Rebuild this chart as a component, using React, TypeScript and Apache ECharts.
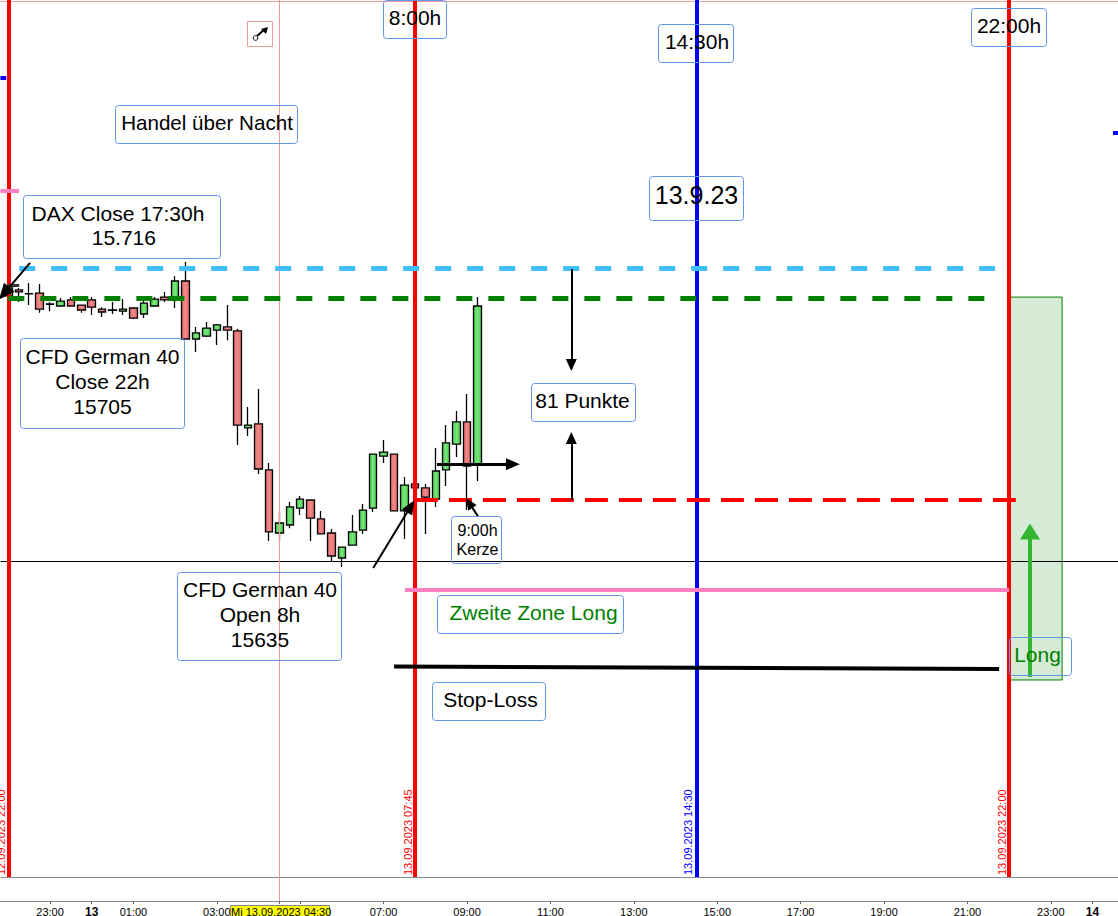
import React, { useEffect, useRef } from "react";
import * as echarts from "echarts";

// 15-minute time axis, one band per candle slot (the first slot lies off the left edge)
const categories = [
  "12.09 21:45",
  "12.09 22:00", "12.09 22:15", "12.09 22:30", "12.09 22:45",
  "12.09 23:00", "12.09 23:15", "12.09 23:30", "12.09 23:45",
  "13.09 00:00", "13.09 00:15", "13.09 00:30", "13.09 00:45",
  "13.09 01:00", "13.09 01:15", "13.09 01:30", "13.09 01:45",
  "13.09 02:00", "13.09 02:15", "13.09 02:30", "13.09 02:45",
  "13.09 03:00", "13.09 03:15", "13.09 03:30", "13.09 03:45",
  "13.09 04:00", "13.09 04:15", "13.09 04:30", "13.09 04:45",
  "13.09 05:00", "13.09 05:15", "13.09 05:30", "13.09 05:45",
  "13.09 06:00", "13.09 06:15", "13.09 06:30", "13.09 06:45",
  "13.09 07:00", "13.09 07:15", "13.09 07:30", "13.09 07:45",
  "13.09 08:00", "13.09 08:15", "13.09 08:30", "13.09 08:45",
  "13.09 09:00", "13.09 09:15", "13.09 09:30", "13.09 09:45",
  "13.09 10:00", "13.09 10:15", "13.09 10:30", "13.09 10:45",
  "13.09 11:00", "13.09 11:15", "13.09 11:30", "13.09 11:45",
  "13.09 12:00", "13.09 12:15", "13.09 12:30", "13.09 12:45",
  "13.09 13:00", "13.09 13:15", "13.09 13:30", "13.09 13:45",
  "13.09 14:00", "13.09 14:15", "13.09 14:30", "13.09 14:45",
  "13.09 15:00", "13.09 15:15", "13.09 15:30", "13.09 15:45",
  "13.09 16:00", "13.09 16:15", "13.09 16:30", "13.09 16:45",
  "13.09 17:00", "13.09 17:15", "13.09 17:30", "13.09 17:45",
  "13.09 18:00", "13.09 18:15", "13.09 18:30", "13.09 18:45",
  "13.09 19:00", "13.09 19:15", "13.09 19:30", "13.09 19:45",
  "13.09 20:00", "13.09 20:15", "13.09 20:30", "13.09 20:45",
  "13.09 21:00", "13.09 21:15", "13.09 21:30", "13.09 21:45",
  "13.09 22:00", "13.09 22:15", "13.09 22:30", "13.09 22:45",
  "13.09 23:00", "13.09 23:15", "13.09 23:30", "13.09 23:45",
  "14.09 00:00", "14.09 00:15", "14.09 00:30",
];

const tickCategories = [
  "12.09 23:00", "13.09 00:00", "13.09 01:00", "13.09 03:00", "13.09 07:00",
  "13.09 09:00", "13.09 11:00", "13.09 13:00", "13.09 15:00", "13.09 17:00", "13.09 19:00",
  "13.09 21:00", "13.09 23:00", "14.09 00:00",
];
const tickLabels = [
  "23:00", "13", "01:00", "03:00", "07:00", "09:00", "11:00", "13:00", "15:00",
  "17:00", "19:00", "21:00", "23:00", "14",
];
const dayTicks = ["13", "14"];
const unlabelledTicks = ["13.09 04:30", "13.09 05:00"];

// Candles from 12.09 22:00 to 13.09 09:15
const opens = [
  15706.1, 15708.2, 15706.9, 15707.1, 15703.3, 15702.6, 15704.7, 15702.9, 15704.7, 15701.5,
  15701.2, 15700.8, 15701.9, 15699.8, 15702.6, 15705.7, 15705.4, 15711.3, 15691.1, 15692.1,
  15694.2, 15695.3, 15693.9, 15660.1, 15661.5, 15645.5, 15623.5, 15626.3, 15632.2, 15635.0,
  15628.4, 15623.5, 15614.8, 15619.3, 15624.5, 15632.2, 15650.3, 15651.0, 15631.2, 15640.6,
  15639.2, 15635.3, 15645.5, 15654.5, 15662.2, 15647.2,
];
const closes = [
  15708.9, 15707.5, 15706.8, 15701.5, 15703.2, 15704.3, 15702.6, 15701.2, 15702.2, 15700.5,
  15701.1, 15701.5, 15698.4, 15703.6, 15705.0, 15704.7, 15711.3, 15691.1, 15693.2, 15694.9,
  15696.0, 15694.2, 15661.1, 15661.1, 15645.8, 15623.9, 15627.0, 15632.6, 15635.3, 15628.7,
  15623.2, 15615.5, 15618.6, 15623.9, 15631.5, 15651.0, 15651.7, 15631.2, 15640.2, 15639.2,
  15636.0, 15645.1, 15654.9, 15662.2, 15646.8, 15702.6,
];
const lows = [
  15705.4, 15704.0, 15702.9, 15700.2, 15700.8, 15702.6, 15702.6, 15700.2, 15699.5, 15698.8,
  15699.8, 15699.5, 15698.1, 15698.4, 15702.6, 15704.0, 15701.9, 15691.1, 15686.6, 15691.8,
  15689.0, 15690.7, 15654.2, 15657.3, 15644.1, 15620.7, 15620.7, 15625.2, 15629.8, 15620.7,
  15623.2, 15613.7, 15611.7, 15619.3, 15623.2, 15630.8, 15647.9, 15631.2, 15621.4, 15638.5,
  15623.2, 15632.6, 15639.9, 15650.0, 15631.5, 15641.6,
];
const highs = [
  15710.3, 15708.9, 15710.6, 15710.3, 15704.0, 15705.4, 15705.7, 15702.9, 15705.7, 15702.2,
  15704.0, 15705.0, 15702.2, 15704.3, 15705.7, 15707.5, 15713.0, 15717.9, 15695.3, 15697.0,
  15696.3, 15702.9, 15694.6, 15667.4, 15673.7, 15647.9, 15630.8, 15634.3, 15636.4, 15635.3,
  15631.2, 15624.9, 15618.6, 15629.8, 15633.6, 15651.0, 15655.9, 15651.0, 15643.0, 15640.6,
  15640.6, 15653.1, 15661.1, 15666.0, 15671.9, 15705.7,
];

// Levels (price) and session markers (hours after 13.09 00:00)
const priceTop = 15809.2;
const priceBottom = 15495.3;
const panelFloor = 15503.65;
const hourMin = -2.375;
const hourMax = 24.625;
const edgeLeft = -2.19;
const edgeRight = 24.61;

const redSessionHours = [-2, 7.75, 22];
const blueSessionHours = [14.5];
const cursorHour = 4.5;
const cursorPrice = 15808.9;
const lastPrice = 15613.7;

const daxClose = 15715.7;
const cfdClose = 15705.4;
const cfdOpen = 15635;
const zoneLong = 15603.6;
const stopHours = [7.25, 21.76];
const stopPrices = [15577.0, 15576.1];
const pinkStub = [-2.19, -1.74, 15742.7];
const blueStubLeft = [-2.19, -2.05, 15782.0];
const blueStubRight = [24.49, 24.61, 15762.9];
const darkBar = [-2.03, -1.74, 15709.9];
const longZoneHours = [22, 23.27];
const longZonePrices = [15705.7, 15572.3];

// Arrows: [fromHour, fromPrice, toHour, toPrice]
const arrowDown81 = [11.5, 15715.5, 11.5, 15682.0];
const arrowUp81 = [11.5, 15635, 11.5, 15656.6];
const arrowRight = [8.28, 15647.5, 10.1, 15647.5];
const arrowOpen = [6.75, 15611.3, 7.65, 15632.8];
const arrowKerze = [9.26, 15629.4, 9.05, 15634.0];
const arrowDax = [-1.48, 15717.6, -2.1, 15707.0];
const arrowLong = [22.5, 15573.3, 22.5, 15624.0];

const FONT = "Liberation Sans";

function seg(x0: number, y0: number, x1: number, y1: number, lineStyle: any, head?: number[]) {
  const a: any = { coord: [x0, y0], lineStyle, symbol: "none" };
  const b: any = { coord: [x1, y1], lineStyle, symbol: head ? "triangle" : "none" };
  if (head) b.symbolSize = head;
  return [a, b];
}

function arrow(a: number[], lineStyle: any, head: number[]) {
  return seg(a[0], a[1], a[2], a[3], lineStyle, head);
}

function box(x: number, y: number, w: number, h: number, lines: string, size: number, cx: number, lineHeight: number, fill = "#000", dy = -2.5) {
  return [
    {
      type: "rect", z: 100, silent: true,
      shape: { x: x + 0.5, y: y + 0.5, width: w, height: h, r: 3 },
      style: { fill: "none", stroke: "#6495ed", lineWidth: 1 },
    },
    {
      type: "text", z: 101, silent: true, x: cx, y: y + h / 2 + 0.5 + dy,
      style: { text: lines, fontFamily: FONT, fontSize: size, lineHeight, fill, align: "center", verticalAlign: "middle" },
    },
  ];
}

function rotated(x: number, y: number, text: string, fill: string) {
  return {
    type: "text", z: 50, silent: true, x, y, rotation: Math.PI / 2,
    style: { text, fontFamily: FONT, fontSize: 11, fill, align: "left", verticalAlign: "middle" },
  };
}

export default function App() {
  const ref = useRef<HTMLDivElement>(null);

  useEffect(() => {
    if (!ref.current) return;
    document.documentElement.style.overflow = "hidden";
    const chart = echarts.init(ref.current, undefined, { renderer: "svg" });

    const upFill = new echarts.graphic.LinearGradient(0, 0, 1, 0, [
      { offset: 0, color: "#42cf4a" },
      { offset: 0.5, color: "#7ce67f" },
      { offset: 1, color: "#3fc747" },
    ]);
    const downFill = new echarts.graphic.LinearGradient(0, 0, 1, 0, [
      { offset: 0, color: "#e4686c" },
      { offset: 0.5, color: "#f08a8a" },
      { offset: 1, color: "#de6266" },
    ]);

    const candleData: any[] = [["-", "-", "-", "-"]];
    opens.forEach((o, i) => candleData.push([o, closes[i], lows[i], highs[i]]));

    const redLine = { color: "#ff0000", width: 4, type: "solid" };
    const blueLine = { color: "#0000ff", width: 4, type: "solid" };
    const blackThin = { color: "#000", width: 2, type: "solid" };
    const overlayLines: any[] = [
      // Panel floor, last price, crosshair
      seg(edgeLeft, panelFloor, edgeRight, panelFloor, { color: "#7f8a90", width: 1, type: "solid" }),
      seg(edgeLeft, lastPrice, edgeRight, lastPrice, { color: "#000", width: 1, type: "solid" }),
      seg(cursorHour, priceTop, cursorHour, priceBottom, { color: "#f09a9a", width: 1, type: "solid" }),
      seg(edgeLeft, cursorPrice, edgeRight, cursorPrice, { color: "#f09a9a", width: 1, type: "solid" }),
      // Session lines
      ...redSessionHours.map((h) => seg(h, priceTop, h, panelFloor, redLine)),
      ...blueSessionHours.map((h) => seg(h, priceTop, h, panelFloor, blueLine)),
      // Levels
      seg(-1.74, daxClose, 21.66, daxClose, { color: "#40bfff", width: 5, type: [16, 16] }),
      seg(-2, cfdClose, 21.42, cfdClose, { color: "#008000", width: 5, type: [16, 16] }),
      seg(7.75, cfdOpen, 22.16, cfdOpen, { color: "#ff0000", width: 4, type: [23, 11] }),
      seg(7.51, zoneLong, 22, zoneLong, { color: "#ff80c0", width: 4, type: "solid" }),
      seg(stopHours[0], stopPrices[0], stopHours[1], stopPrices[1], { color: "#000", width: 4, type: "solid" }),
      seg(pinkStub[0], pinkStub[2], pinkStub[1], pinkStub[2], { color: "#ff80c0", width: 4, type: "solid" }),
      seg(blueStubLeft[0], blueStubLeft[2], blueStubLeft[1], blueStubLeft[2], { color: "#0000ff", width: 4, type: "solid" }),
      seg(blueStubRight[0], blueStubRight[2], blueStubRight[1], blueStubRight[2], { color: "#0000ff", width: 4, type: "solid" }),
      seg(darkBar[0], darkBar[2], darkBar[1], darkBar[2], { color: "#333", width: 3, type: "solid" }),
      // Arrows
      arrow(arrowDown81, blackThin, [11, 12]),
      arrow(arrowUp81, blackThin, [11, 12]),
      arrow(arrowRight, { color: "#000", width: 3, type: "solid" }, [12, 14]),
      arrow(arrowOpen, blackThin, [12, 14]),
      arrow(arrowKerze, blackThin, [10, 12]),
      arrow(arrowDax, { color: "#000", width: 2, type: "solid" }, [14, 16]),
      arrow(arrowLong, { color: "#33b533", width: 4, type: "solid" }, [20, 16]),
    ];

    const graphics: any[] = [
      ...box(383, 0, 63, 38, "8:00h", 21, 415, 25, "#000", -2),
      ...box(658, 24, 75, 38, "14:30h", 21, 697, 25),
      ...box(971, 8, 75, 38, "22:00h", 21, 1009, 25),
      ...box(115, 105, 182, 38, "Handel über Nacht", 20.6, 207, 25),
      ...box(649, 176, 94, 44, "13.9.23", 25, 696.5, 30, "#000", -3.5),
      ...box(23, 195, 197, 63, "DAX Close 17:30h\n  15.716", 21, 118, 24, "#000", -2),
      ...box(20, 338, 164, 90, "CFD German 40\nClose 22h\n15705", 21, 102.5, 25),
      ...box(531, 383, 104, 38, "81 Punkte", 21, 582.5, 25),
      ...box(451, 516, 50, 47, "9:00h\nKerze", 16, 477.5, 19, "#000", 0),
      ...box(177, 572, 164, 88, "CFD German 40\nOpen 8h\n15635", 21, 260, 25),
      ...box(437, 595, 186, 38, "Zweite Zone Long", 21, 533.5, 25, "#008000"),
      ...box(432, 682, 113, 38, "Stop-Loss", 21, 490.5, 25),
      ...box(1009, 637, 62, 38, "Long", 21, 1037.5, 25, "#008000"),
      // Tool icon
      { type: "rect", z: 100, silent: true, shape: { x: 247.5, y: 21.5, width: 25, height: 25 }, style: { fill: "#fff", stroke: "#f09a9a", lineWidth: 1 } },
      { type: "line", z: 101, silent: true, shape: { x1: 257, y1: 36, x2: 265, y2: 29 }, style: { stroke: "#000", lineWidth: 2 } },
      { type: "polygon", z: 101, silent: true, shape: { points: [[268, 27], [266, 34], [261, 29]] }, style: { fill: "#000" } },
      { type: "circle", z: 101, silent: true, shape: { cx: 255.5, cy: 38, r: 2.3 }, style: { fill: "#fff", stroke: "#000", lineWidth: 1 } },
      // Vertical date labels
      rotated(0.5, 875, "12.09.2023 22:00", "#ff0000"),
      rotated(407.5, 875, "13.09.2023 07:45", "#ff0000"),
      rotated(688, 875, "13.09.2023 14:30", "#0000ff"),
      rotated(1001.5, 875, "13.09.2023 22:00", "#ff0000"),
      // Crosshair time label
      { type: "rect", z: 100, silent: true, shape: { x: 230.5, y: 905.5, width: 99, height: 14 }, style: { fill: "#ffff00", stroke: "#808890", lineWidth: 1 } },
      { type: "text", z: 101, silent: true, x: 231, y: 912, style: { text: "Mi 13.09.2023 04:30", fontFamily: FONT, fontSize: 11, fill: "#000", align: "left", verticalAlign: "middle" } },
    ];

    chart.setOption({
      animation: false,
      backgroundColor: "#fff",
      grid: { left: -7.3, top: 0, width: 1125.9, height: 901, containLabel: false, outerBoundsMode: "none" },
      xAxis: [
        {
          type: "category",
          data: categories,
          position: "bottom",
          axisLine: { show: true, onZero: false, lineStyle: { color: "#808890", width: 1 } },
          axisTick: {
            show: true,
            alignWithLabel: true,
            length: 3,
            lineStyle: { color: "#606870" },
            interval: (_i: number, v: string) => tickCategories.includes(v) || unlabelledTicks.includes(v),
          },
          axisLabel: {
            show: true,
            margin: 5,
            fontFamily: FONT,
            fontSize: 11,
            color: "#000",
            hideOverlap: false,
            interval: (_i: number, v: string) => tickCategories.includes(v),
            formatter: (v: string) => {
              const t = tickLabels[tickCategories.indexOf(v)] ?? "";
              return dayTicks.includes(t) ? `{day|${t}}` : t;
            },
            rich: { day: { fontFamily: FONT, fontSize: 12, fontWeight: "bold", color: "#000" } },
          },
          splitLine: { show: false },
        },
        { type: "value", show: false, position: "top", min: hourMin, max: hourMax, splitLine: { show: false } },
      ],
      yAxis: { type: "value", show: false, min: priceBottom, max: priceTop, splitLine: { show: false } },
      series: [
        {
          type: "candlestick",
          name: "CFD German 40",
          xAxisIndex: 0,
          yAxisIndex: 0,
          z: 1,
          barWidth: 8,
          silent: true,
          data: candleData,
          itemStyle: {
            color: upFill,
            color0: downFill,
            borderColor: "#000",
            borderColor0: "#000",
            borderWidth: 1.3,
          },
        },
        {
          type: "line",
          name: "Zeichnungen",
          xAxisIndex: 1,
          yAxisIndex: 0,
          z: 3,
          silent: true,
          data: [],
          showSymbol: false,
          markArea: {
            silent: true,
            z: 2,
            itemStyle: { color: "rgba(0,128,0,0.16)", borderColor: "#008000", borderWidth: 1 },
            label: { show: false },
            data: [[{ coord: [longZoneHours[0], longZonePrices[0]] }, { coord: [longZoneHours[1], longZonePrices[1]] }]],
          },
          markLine: {
            silent: true,
            symbol: "none",
            label: { show: false },
            emphasis: { disabled: true },
            data: overlayLines,
          },
        },
      ],
      graphic: graphics,
    });

    return () => chart.dispose();
  }, []);

  return <div ref={ref} style={{ position: "absolute", left: 0, top: 0, width: 1118, height: 916 }} />;
}
